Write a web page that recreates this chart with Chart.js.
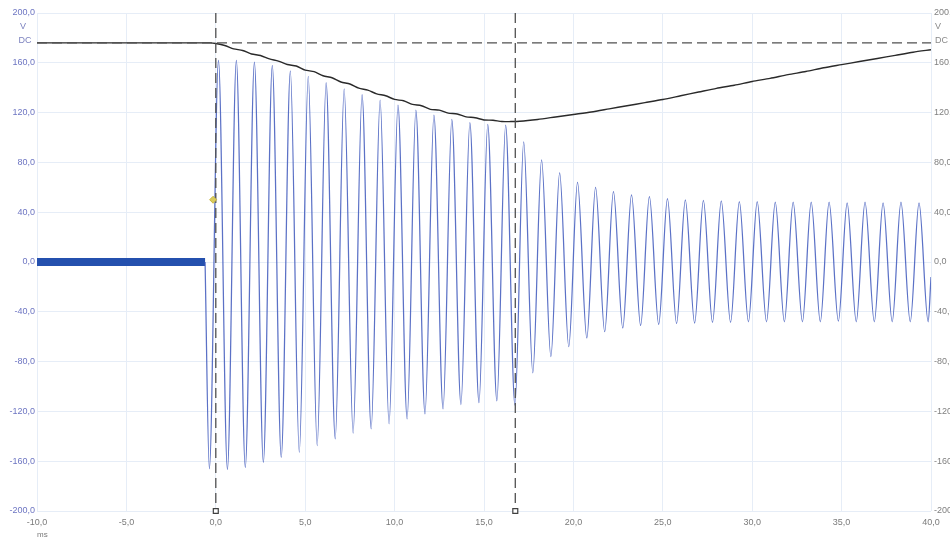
<!DOCTYPE html>
<html>
<head>
<meta charset="utf-8">
<title>Spannung / Strom</title>
<script src="https://cdn.jsdelivr.net/npm/chart.js@4/dist/chart.umd.min.js"></script>
<style>
  html, body { margin: 0; padding: 0; background: #ffffff; }
  #wrap { width: 950px; height: 543px; position: relative; }
</style>
</head>
<body>
<div id="wrap"><canvas id="scope"></canvas></div>
<script>
// Axis ticks
const timeTicks = [-10, -5, 0, 5, 10, 15, 20, 25, 30, 35, 40];
const voltTicks = [-200, -160, -120, -80, -40, 0, 40, 80, 120, 160, 200];

// DC link voltage (black trace), ms / V
const dcTimes = [-10, -5, -0.3, 0, 0.5, 1, 1.5, 2, 2.5, 3, 3.5, 4, 4.5, 5, 5.5, 6, 6.5, 7, 7.5, 8,
  8.5, 9, 9.5, 10, 10.5, 11, 11.5, 12, 12.5, 13, 13.5, 14, 14.5, 15, 15.5, 16, 16.5,
  17, 18, 19, 20, 21, 22, 23, 24, 25, 26, 27, 28, 29, 30, 31, 32, 33, 34, 35, 36, 37, 38, 39, 40];
const dcVolts = [176, 176, 176, 175.5, 173.9, 171.2, 169.9, 167.1, 165.9, 163.1, 161.4, 158.6, 157.4, 154.1, 152.9, 149.6, 148, 144.6, 143, 139.6,
  138, 135.1, 133.5, 130.6, 129.5, 126.6, 125.5, 122.6, 122, 119.6, 118.9, 116.6, 115.9, 114.1, 113.9, 112.8, 112.8,
  113, 114.5, 116.5, 118.5, 120.5, 123, 125.5, 128, 130.5, 133.5, 136.5, 139.5, 142, 145, 147.5, 150.5, 153, 156, 158.5, 161, 163.5, 166, 168.5, 170.5];

// AC output before switching (held at zero)
const idleTimes = [-10, -0.6];
const idleVolts = [0, 0];

// AC output swing: successive troughs and crests, ms / V
const swingTimes = [-0.6, -0.36, 0.15, 0.65, 1.15, 1.65, 2.16, 2.66, 3.16, 3.66, 4.17, 4.67, 5.17, 5.67, 6.17, 6.68, 7.18, 7.68,
  8.18, 8.69, 9.19, 9.69, 10.19, 10.7, 11.19, 11.7, 12.2, 12.71, 13.2, 13.71, 14.21, 14.72, 15.21, 15.72, 16.21, 16.73,
  17.22, 17.73, 18.22, 18.74, 19.23, 19.74, 20.23, 20.75, 21.24, 21.75, 22.24, 22.76, 23.25, 23.76, 24.25, 24.77,
  25.26, 25.77, 26.26, 26.78, 27.27, 27.78, 28.27, 28.79, 29.28, 29.79, 30.28, 30.8, 31.29, 31.8, 32.29, 32.81,
  33.3, 33.81, 34.3, 34.82, 35.31, 35.82, 36.31, 36.83, 37.32, 37.83, 38.32, 38.84, 39.33, 39.84, 40];
const swingVolts = [0, -166, 162, -166.5, 162, -165, 160.5, -161, 158, -157, 153.5, -153, 149, -147.5, 144, -142, 139, -137.5,
  134.5, -134, 130, -130, 126, -126, 122, -122, 118, -118, 114.5, -114.5, 112, -113, 110.5, -111.5, 110, -115,
  96.5, -89, 82, -76, 71.5, -68, 64, -61, 60, -56, 56.5, -53, 54, -51, 52.5, -50,
  51, -49.5, 50, -49, 49.5, -48.5, 49, -48.5, 48.5, -48, 48.5, -48, 48, -48, 48, -48,
  48, -48, 48, -47.5, 47.5, -48, 48, -48, 47.5, -48, 48, -48, 47.5, -48, -12];

// Cursors and reference level
const cursorTimes = [0, 16.75];
const dcLevel = 176;
const markerTime = -0.15;
const markerVolt = 50;

const pts = (xs, ys) => xs.map((x, i) => ({ x, y: ys[i] }));
const fmt = v => Number(v).toFixed(1).replace('.', ',');
const FONT = "'Liberation Sans', Arial, sans-serif";

const unitLabels = {
  id: 'unitLabels',
  afterDraw(chart) {
    const c = chart.ctx;
    c.save();
    c.font = '9px ' + FONT;
    c.textBaseline = 'middle';
    c.fillStyle = '#7c82bf';
    c.textAlign = 'center';
    c.fillText('V', 23, 27);
    c.fillText('DC', 25, 41);
    c.fillStyle = '#8a8a8a';
    c.textAlign = 'left';
    c.fillText('V', 935, 27);
    c.fillText('DC', 935, 41);
    c.restore();
  }
};

const cursorSets = cursorTimes.map(t => ({
  data: [{ x: t, y: 200 }, { x: t, y: -200 }],
  borderColor: '#505050',
  borderWidth: 1.3,
  borderDash: [10, 5],
  pointRadius: [0, 3.5],
  pointStyle: 'rect',
  pointBorderColor: '#404040',
  pointBackgroundColor: '#ffffff',
  pointBorderWidth: 1.2,
  clip: false,
  tension: 0
}));

new Chart(document.getElementById('scope'), {
  type: 'line',
  data: {
    datasets: [
      {
        data: [{ x: markerTime, y: markerVolt }],
        showLine: false,
        pointStyle: 'rectRot',
        pointRadius: 3.5,
        pointBackgroundColor: '#d9cb5e',
        pointBorderColor: '#c8b640',
        pointBorderWidth: 1
      },
      ...cursorSets,
      {
        data: [{ x: -10, y: dcLevel }, { x: 40, y: dcLevel }],
        borderColor: '#505050',
        borderWidth: 1.3,
        borderDash: [10, 5],
        pointRadius: 0,
        tension: 0
      },
      {
        data: pts(dcTimes, dcVolts),
        borderColor: '#2a2a2a',
        borderWidth: 1.4,
        pointRadius: 0,
        tension: 0.25
      },
      {
        data: pts(swingTimes, swingVolts),
        borderColor: 'rgba(62, 88, 188, 0.85)',
        borderWidth: 1.25,
        pointRadius: 0,
        cubicInterpolationMode: 'monotone'
      },
      {
        data: pts(idleTimes, idleVolts),
        borderColor: '#2450ae',
        borderWidth: 8,
        borderCapStyle: 'butt',
        pointRadius: 0,
        tension: 0
      }
    ]
  },
  options: {
    responsive: true,
    maintainAspectRatio: false,
    animation: false,
    devicePixelRatio: 1,
    layout: { padding: { top: 13, left: 0, right: 0, bottom: 0 } },
    plugins: { legend: { display: false }, tooltip: { enabled: false } },
    scales: {
      x: {
        type: 'linear',
        min: -10,
        max: 40,
        afterBuildTicks: s => { s.ticks = timeTicks.map(v => ({ value: v })); },
        afterFit: s => { s.height = 32; },
        grid: { color: '#e6edf7', lineWidth: 1, drawTicks: false },
        border: { display: false },
        ticks: {
          padding: 6,
          color: '#7a7a7a',
          font: { family: FONT, size: 9 },
          callback: v => fmt(v),
          maxRotation: 0
        },
        title: {
          display: true,
          text: 'ms',
          align: 'start',
          color: '#7a7a7a',
          font: { family: FONT, size: 8 },
          padding: { top: 0, bottom: 3 }
        }
      },
      y: {
        position: 'left',
        min: -200,
        max: 200,
        afterBuildTicks: s => { s.ticks = voltTicks.map(v => ({ value: v })); },
        afterFit: s => { s.width = 37; },
        grid: { color: '#e6edf7', lineWidth: 1, drawTicks: false },
        border: { display: false },
        ticks: {
          padding: 2,
          color: '#6d75c2',
          font: { family: FONT, size: 9 },
          callback: v => fmt(v)
        }
      },
      y2: {
        position: 'right',
        min: -200,
        max: 200,
        afterBuildTicks: s => { s.ticks = voltTicks.map(v => ({ value: v })); },
        afterFit: s => { s.width = 19; },
        grid: { display: false, drawTicks: false },
        border: { display: false },
        ticks: {
          padding: 3,
          color: '#808080',
          font: { family: FONT, size: 9 },
          callback: v => fmt(v)
        }
      }
    }
  },
  plugins: [unitLabels]
});
</script>
</body>
</html>
